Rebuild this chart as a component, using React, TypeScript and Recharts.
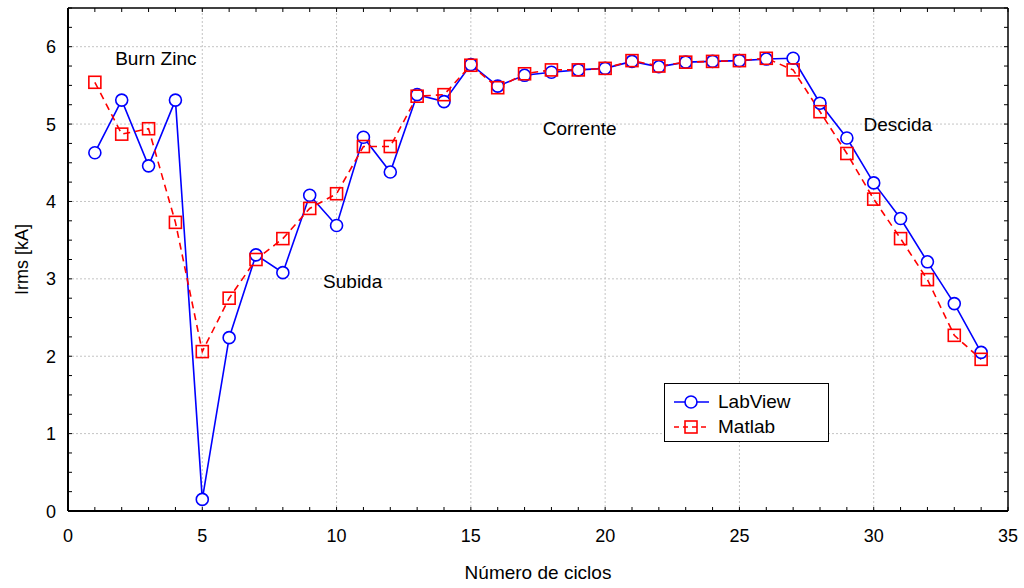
import React from 'react';
import { LineChart, Line, XAxis, YAxis, ReferenceLine, ReferenceDot } from 'recharts';

const cycles = [1, 2, 3, 4, 5, 6, 7, 8, 9, 10, 11, 12, 13, 14, 15, 16, 17, 18, 19, 20, 21, 22, 23, 24, 25, 26, 27, 28, 29, 30, 31, 32, 33, 34];
const labview = [4.63, 5.31, 4.46, 5.31, 0.15, 2.24, 3.31, 3.08, 4.08, 3.69, 4.83, 4.38, 5.38, 5.29, 5.77, 5.49, 5.63, 5.67, 5.70, 5.72, 5.81, 5.74, 5.80, 5.81, 5.82, 5.84, 5.85, 5.27, 4.82, 4.24, 3.78, 3.22, 2.68, 2.05];
const matlab = [5.54, 4.87, 4.94, 3.73, 2.06, 2.75, 3.25, 3.52, 3.91, 4.10, 4.71, 4.71, 5.36, 5.38, 5.76, 5.47, 5.65, 5.70, 5.70, 5.72, 5.82, 5.75, 5.80, 5.81, 5.82, 5.85, 5.70, 5.16, 4.62, 4.03, 3.52, 2.99, 2.27, 1.96];

const xTicks = Array.from({ length: 36 }, (_, i) => i);
const yTicks = Array.from({ length: 27 }, (_, i) => i * 0.25);
const xGrid = [5, 10, 15, 20, 25, 30];
const yGrid = [1, 2, 3, 4, 5, 6];

const annotations = [
  { x: 3.27, y: 5.85, text: 'Burn Zinc' },
  { x: 10.6, y: 2.97, text: 'Subida' },
  { x: 19.05, y: 4.95, text: 'Corrente' },
  { x: 30.9, y: 5.0, text: 'Descida' },
];

const data = cycles.map((c, i) => ({ cycle: c, labview: labview[i], matlab: matlab[i] }));

const FONT = '"Liberation Sans", Arial, sans-serif';
const BLUE = '#0000ff';
const RED = '#ff0000';

const BottomTick = (props: any) => {
  const { x, y, payload } = props;
  const v = payload.value;
  return (
    <g>
      <line x1={x} x2={x} y1={y} y2={y - 4} stroke="#000" strokeWidth={1} />
      {v % 5 === 0 && (
        <text x={x} y={y + 31} textAnchor="middle" fontSize={18} fontFamily={FONT} fill="#000">{v}</text>
      )}
    </g>
  );
};

const TopTick = (props: any) => {
  const { x, y } = props;
  return <line x1={x} x2={x} y1={y} y2={y + 4} stroke="#000" strokeWidth={1} />;
};

const LeftTick = (props: any) => {
  const { x, y, payload } = props;
  const v = payload.value;
  return (
    <g>
      <line x1={x} x2={x + 4} y1={y} y2={y} stroke="#000" strokeWidth={1} />
      {Number.isInteger(v) && (
        <text x={x - 12} y={y + 6.5} textAnchor="end" fontSize={18} fontFamily={FONT} fill="#000">{v}</text>
      )}
    </g>
  );
};

const RightTick = (props: any) => {
  const { x, y } = props;
  return <line x1={x} x2={x - 4} y1={y} y2={y} stroke="#000" strokeWidth={1} />;
};

const SquareDot = (props: any) => {
  const { cx, cy, index } = props;
  if (cx == null || cy == null) return <g key={`sq-${index}`} />;
  return <rect key={`sq-${index}`} x={cx - 6} y={cy - 6} width={12} height={12} fill="none" stroke={RED} strokeWidth={1.6} />;
};

const YLabel = (props: any) => {
  const { viewBox } = props;
  const x = 22;
  const y = viewBox.y + viewBox.height / 2;
  return (
    <text x={x} y={y} transform={`rotate(-90, ${x}, ${y})`} textAnchor="middle" dominantBaseline="central" fontSize={18} fontFamily={FONT} fill="#000">
      Irms [kA]
    </text>
  );
};

const XLabel = (props: any) => {
  const { viewBox } = props;
  const x = viewBox.x + viewBox.width / 2;
  return (
    <text x={x} y={579} textAnchor="middle" fontSize={19} fontFamily={FONT} fill="#000">
      Número de ciclos
    </text>
  );
};

const legendItems = [
  { name: 'LabView', color: BLUE, marker: 'circle', dash: '' },
  { name: 'Matlab', color: RED, marker: 'square', dash: '5 4' },
];

export default function App() {
  return (
    <div style={{ position: 'fixed', left: 0, top: 0, width: 1024, height: 588, background: '#fff' }}>
      <LineChart width={1024} height={588} data={data} margin={{ top: 7, right: 15, left: 0, bottom: 0 }}>
        <XAxis
          dataKey="cycle"
          type="number"
          domain={[0, 35]}
          ticks={xTicks}
          interval={0}
          height={77}
          tickSize={0}
          tickMargin={0}
          tickLine={false}
          tick={BottomTick}
          axisLine={{ stroke: '#000', strokeWidth: 2 }}
          label={<XLabel />}
          allowDataOverflow
        />
        <XAxis
          xAxisId="top"
          dataKey="cycle"
          orientation="top"
          type="number"
          domain={[0, 35]}
          ticks={xTicks}
          interval={0}
          height={1}
          tickSize={0}
          tickMargin={0}
          tickLine={false}
          tick={TopTick}
          axisLine={{ stroke: '#000', strokeWidth: 1.5 }}
          allowDataOverflow
        />
        <YAxis
          type="number"
          domain={[0, 6.5]}
          ticks={yTicks}
          interval={0}
          width={68}
          tickSize={0}
          tickMargin={0}
          tickLine={false}
          tick={LeftTick}
          axisLine={{ stroke: '#000', strokeWidth: 2 }}
          label={<YLabel />}
          allowDataOverflow
        />
        <YAxis
          yAxisId="right"
          orientation="right"
          type="number"
          domain={[0, 6.5]}
          ticks={yTicks}
          interval={0}
          width={1}
          tickSize={0}
          tickMargin={0}
          tickLine={false}
          tick={RightTick}
          axisLine={{ stroke: '#000', strokeWidth: 1.5 }}
          allowDataOverflow
        />
        {xGrid.map((v) => (
          <ReferenceLine key={`gx-${v}`} x={v} stroke="#c4c4c4" strokeWidth={1} strokeDasharray="2 2" />
        ))}
        {yGrid.map((v) => (
          <ReferenceLine key={`gy-${v}`} y={v} stroke="#c4c4c4" strokeWidth={1} strokeDasharray="2 2" />
        ))}
        {annotations.map((a) => (
          <ReferenceDot
            key={a.text}
            x={a.x}
            y={a.y}
            r={0}
            fill="none"
            stroke="none"
            label={{ value: a.text, position: 'center', fontSize: 19, fill: '#000', fontFamily: FONT }}
          />
        ))}
        <Line
          xAxisId="top"
          yAxisId="right"
          dataKey="labview"
          stroke="none"
          dot={false}
          activeDot={false}
          legendType="none"
          isAnimationActive={false}
        />
        <Line
          dataKey="labview"
          name="LabView"
          stroke={BLUE}
          strokeWidth={1.6}
          dot={{ r: 6, fill: '#fff', stroke: BLUE, strokeWidth: 1.6 }}
          isAnimationActive={false}
        />
        <Line
          dataKey="matlab"
          name="Matlab"
          stroke={RED}
          strokeWidth={1.6}
          strokeDasharray="7 5"
          dot={SquareDot}
          isAnimationActive={false}
        />
      </LineChart>
      <div
        style={{
          position: 'absolute',
          left: 664,
          top: 383,
          width: 163,
          height: 57,
          border: '1.5px solid #000',
          background: '#fff',
          fontFamily: FONT,
          fontSize: 19,
          boxSizing: 'content-box',
        }}
      >
        {legendItems.map((it, i) => (
          <div key={it.name} style={{ position: 'absolute', left: 8, top: 6 + i * 25, height: 24, display: 'flex', alignItems: 'center' }}>
            <svg width={38} height={20} style={{ display: 'block' }}>
              <line x1={1} x2={36} y1={10} y2={10} stroke={it.color} strokeWidth={1.6} strokeDasharray={it.dash || undefined} />
              {it.marker === 'circle' ? (
                <circle cx={18} cy={10} r={6} fill="#fff" stroke={it.color} strokeWidth={1.6} />
              ) : (
                <rect x={12} y={4} width={12} height={12} fill="none" stroke={it.color} strokeWidth={1.6} />
              )}
            </svg>
            <span style={{ marginLeft: 7, lineHeight: '24px' }}>{it.name}</span>
          </div>
        ))}
      </div>
    </div>
  );
}
